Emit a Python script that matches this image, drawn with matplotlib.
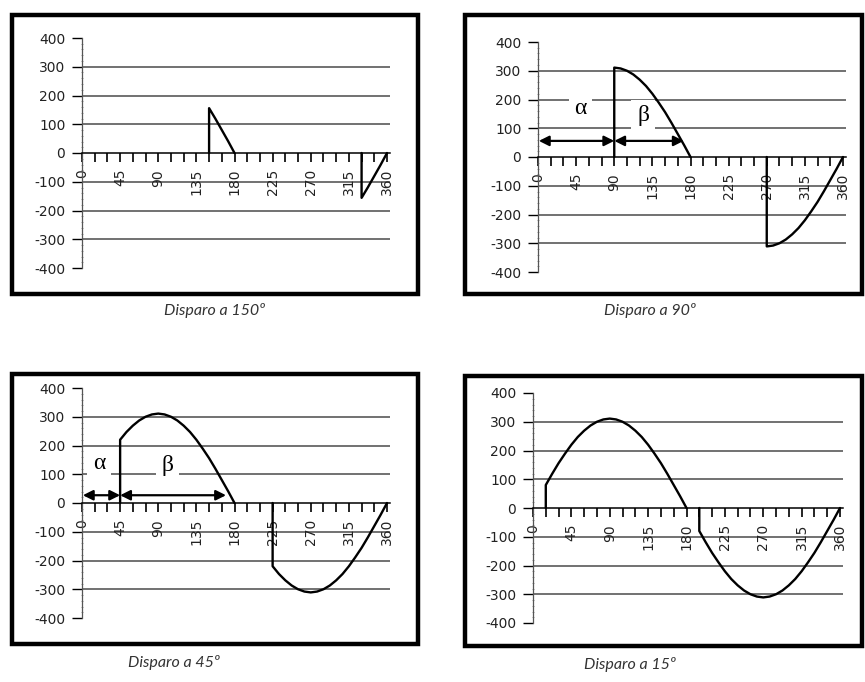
import matplotlib.pyplot as plt
from matplotlib.patches import Rectangle
from matplotlib.ticker import MultipleLocator

# ángulo (grados, paso 7.5) y tensión de red (V)
angulos = [0, 7.5, 15, 22.5, 30, 37.5, 45, 52.5, 60, 67.5, 75, 82.5, 90,
           97.5, 105, 112.5, 120, 127.5, 135, 142.5, 150, 157.5, 165, 172.5, 180,
           187.5, 195, 202.5, 210, 217.5, 225, 232.5, 240, 247.5, 255, 262.5, 270,
           277.5, 285, 292.5, 300, 307.5, 315, 322.5, 330, 337.5, 345, 352.5, 360]
tension = [0, 41, 80, 119, 156, 189, 220, 247, 269, 287, 300, 308, 311,
           308, 300, 287, 269, 247, 220, 189, 156, 119, 80, 41, 0,
           -41, -80, -119, -156, -189, -220, -247, -269, -287, -300, -308, -311,
           -308, -300, -287, -269, -247, -220, -189, -156, -119, -80, -41, 0]

disparos = [150, 90, 45, 15]
titulos = ["Disparo a 150º", "Disparo a 90º", "Disparo a 45º", "Disparo a 15º"]
x_ticks = [0, 45, 90, 135, 180, 225, 270, 315, 360]
y_ticks = [-400, -300, -200, -100, 0, 100, 200, 300, 400]
rejilla = [-300, -200, -100, 100, 200, 300]

W, H = 865, 682

# marco exterior (izq, arriba, der, abajo) en px y ejes (x0, x360, y400, y-400)
marcos = [(12, 15, 418, 294), (465, 15, 862, 294),
          (12, 374, 418, 644), (465, 376, 862, 646)]
ejes = [(82, 387, 38, 268), (538, 843, 42, 272),
        (82, 387, 388, 618), (533, 840, 393, 623)]
rotulos = [(215, 311), (650, 311), (174, 662), (630, 665)]

# flechas alfa / beta: (panel, x1, x2, y) y textos (panel, simbolo, x, y)
flechas = [(1, 1, 90, 56), (1, 90, 172, 56), (2, 1, 45, 27), (2, 45, 170, 27)]
letras = [(1, "α", 50, 170), (1, "β", 124, 143), (2, "α", 20, 138), (2, "β", 101, 131)]

fig = plt.figure(figsize=(W / 100, H / 100), dpi=100)
fig.patch.set_facecolor("white")

axes = []
for i, alfa in enumerate(disparos):
    l, t, r, b = marcos[i]
    fig.patches.append(Rectangle((l / W, 1 - b / H), (r - l) / W, (b - t) / H,
                                 transform=fig.transFigure, fill=False,
                                 edgecolor="black", linewidth=3.2))
    x0, x360, y4, ym4 = ejes[i]
    ancho = (x360 - x0) * 364 / 360
    ax = fig.add_axes([x0 / W, 1 - ym4 / H, ancho / W, (ym4 - y4) / H])
    axes.append(ax)
    ax.set_xlim(0, 364)
    ax.set_ylim(-400, 400)

    for y in rejilla:
        ax.axhline(y, color="#4a4a4a", linewidth=1.1, zorder=1)

    for inicio in (alfa, alfa + 180):
        fin = inicio - alfa + 180
        xs = [inicio] + [a for a in angulos if inicio <= a <= fin]
        ys = [0] + [v for a, v in zip(angulos, tension) if inicio <= a <= fin]
        ax.plot(xs, ys, color="black", linewidth=1.7, zorder=4,
                solid_joinstyle="round", solid_capstyle="round")

    ax.spines[["top", "right"]].set_visible(False)
    ax.spines["bottom"].set_position(("data", 0))
    ax.spines["bottom"].set_color("black")
    ax.spines["bottom"].set_linewidth(1.1)
    ax.spines["left"].set_color("#555555")
    ax.spines["left"].set_linewidth(0.9)

    ax.set_xticks(x_ticks)
    ax.set_xticklabels([str(v) for v in x_ticks], rotation=90, va="top")
    ax.xaxis.set_minor_locator(MultipleLocator(15))
    ax.tick_params(axis="x", which="both", direction="out", length=6.5,
                   width=1.2, pad=5, labelsize=10, labelcolor="#222222")
    ax.set_yticks(y_ticks)
    ax.set_yticklabels([str(v) for v in y_ticks])
    ax.yaxis.set_minor_locator(MultipleLocator(20))
    ax.tick_params(axis="y", which="major", direction="out", length=7,
                   width=1.0, pad=5, labelsize=10, labelcolor="#222222")
    ax.tick_params(axis="y", which="minor", direction="inout", length=1.5,
                   width=0.5, color="#777777")
    for lbl in ax.get_xticklabels() + ax.get_yticklabels():
        lbl.set_family("DejaVu Sans")

    ax.patch.set_alpha(0)

    cx, cy = rotulos[i]
    fig.text(cx / W, 1 - cy / H, titulos[i], ha="center", va="center",
             fontsize=11.5, style="italic", family="Lato", color="#333333")

for p, x1, x2, y in flechas:
    axes[p].annotate("", xy=(x2, y), xytext=(x1, y), zorder=5,
                     arrowprops=dict(arrowstyle="<|-|>", color="black",
                                     lw=1.6, shrinkA=0, shrinkB=0,
                                     mutation_scale=15))

for p, s, x, y in letras:
    axes[p].text(x, y, s, ha="center", va="center", fontsize=17,
                 family="Liberation Serif", zorder=3,
                 bbox=dict(facecolor="white", edgecolor="none", pad=4))

fig.savefig("out.png", dpi=100)
